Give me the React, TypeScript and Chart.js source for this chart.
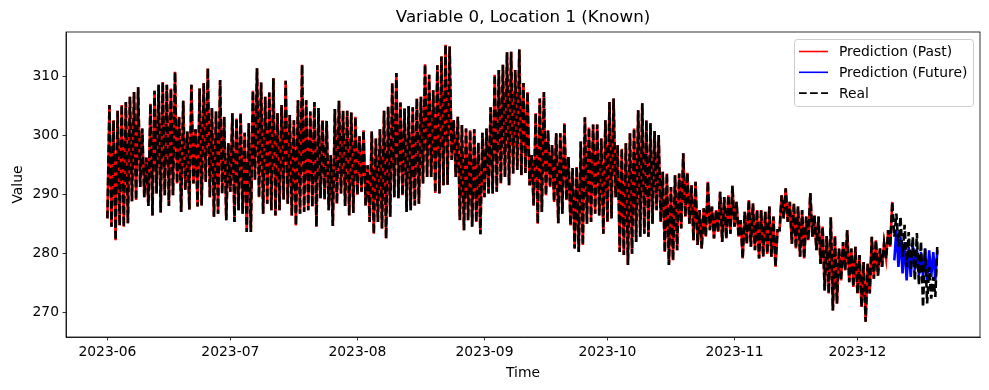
import React, { useEffect, useRef } from "react";
import { Chart, registerables } from "chart.js";

Chart.register(...registerables);

// ---- data ----
// x values are days since 2023-06-01
const monthTickDays = [0, 30, 61, 92, 122, 153, 183];
const monthTickLabels = ["2023-06", "2023-07", "2023-08", "2023-09", "2023-10", "2023-11", "2023-12"];
const yTickValues = [270, 280, 290, 300, 310];

// daily low / high of the real series, day 0 .. 202
const realLow = [
  285.9, 284.5, 282.2, 284.7, 284.5, 285.1, 288.8, 289.0, 291.2, 289.5,
  288.0, 286.4, 290.1, 286.9, 289.8, 288.0, 289.8, 291.8, 287.0, 290.7,
  287.4, 291.8, 287.9, 288.1, 292.1, 289.5, 286.2, 286.7, 290.1, 285.6,
  290.4, 285.3, 287.3, 286.7, 283.6, 283.6, 292.4, 289.5, 286.7, 288.4,
  287.3, 286.4, 287.3, 289.1, 288.4, 286.4, 284.7, 286.7, 287.0, 287.3,
  287.9, 284.5, 289.3, 289.1, 287.3, 284.6, 288.4, 290.1, 288.0, 286.4,
  286.8, 289.9, 290.4, 288.1, 285.3, 283.3, 285.3, 284.2, 282.5, 286.2,
  289.5, 289.3, 289.8, 287.0, 287.3, 288.1, 288.4, 291.8, 292.9, 292.9,
  290.2, 290.1, 291.5, 291.6, 295.8, 292.9, 285.6, 283.9, 285.6, 284.5,
  285.3, 283.2, 289.5, 290.1, 290.1, 290.4, 291.8, 292.9, 291.5, 293.5,
  294.1, 293.2, 293.6, 291.5, 288.1, 285.0, 287.0, 289.8, 291.2, 288.7,
  285.1, 286.7, 289.0, 284.7, 280.8, 280.2, 281.4, 285.0, 285.3, 286.7,
  286.4, 283.3, 285.3, 285.9, 289.5, 280.2, 279.7, 278.0, 279.9, 281.9,
  282.8, 283.3, 282.8, 285.0, 287.3, 285.3, 280.2, 278.0, 278.8, 280.5,
  284.2, 286.2, 285.0, 282.2, 281.4, 280.8, 282.8, 283.9, 282.5, 283.6,
  281.9, 282.5, 283.3, 284.5, 282.8, 279.1, 281.6, 281.1, 280.5, 279.1,
  279.4, 279.9, 279.4, 277.7, 283.9, 285.9, 285.3, 281.6, 280.8, 279.4,
  279.1, 282.2, 282.8, 280.5, 278.2, 273.7, 273.2, 270.3, 271.5, 275.4,
  277.1, 275.1, 274.3, 273.2, 270.9, 268.4, 273.2, 275.7, 276.2, 277.7,
  279.1, 281.1, 282.8, 281.1, 279.4, 277.7, 277.1, 275.4, 274.6, 270.9,
  271.5, 272.3, 272.6,
];
const realHigh = [
  305.1, 302.5, 304.1, 305.1, 305.6, 306.5, 307.3, 308.1, 301.1, 296.2,
  305.3, 307.5, 308.5, 309.0, 308.5, 307.9, 310.7, 303.1, 305.8, 300.6,
  308.5, 301.0, 307.9, 308.8, 311.3, 304.6, 304.0, 309.3, 303.1, 298.6,
  303.7, 302.8, 303.7, 300.4, 302.0, 307.5, 311.3, 308.9, 306.5, 307.2,
  309.6, 303.7, 305.1, 309.2, 303.4, 302.5, 305.9, 311.9, 305.9, 304.0,
  305.6, 304.6, 302.5, 302.4, 296.6, 304.4, 305.8, 304.1, 304.1, 303.8,
  303.1, 299.8, 300.8, 294.9, 300.6, 299.4, 301.0, 304.1, 304.8, 308.8,
  310.5, 305.5, 304.5, 304.9, 304.7, 306.2, 306.5, 312.0, 310.2, 307.6,
  311.8, 313.3, 315.3, 315.0, 302.5, 303.1, 301.7, 301.1, 300.8, 301.0,
  298.7, 300.4, 301.1, 304.7, 310.2, 311.0, 311.9, 314.0, 314.1, 311.0,
  314.5, 308.8, 307.3, 296.6, 303.7, 306.2, 307.3, 300.8, 298.3, 300.3,
  300.3, 302.0, 296.3, 294.4, 294.6, 298.9, 303.0, 301.3, 301.8, 301.8,
  299.4, 302.5, 305.6, 306.2, 298.3, 297.7, 298.6, 300.3, 301.1, 304.2,
  305.4, 302.5, 302.0, 300.7, 300.0, 293.8, 293.5, 291.2, 293.2, 293.5,
  296.9, 293.6, 291.5, 292.1, 287.3, 287.6, 292.1, 287.9, 287.3, 290.4,
  289.5, 289.8, 291.4, 288.7, 285.6, 287.0, 289.0, 288.4, 287.3, 287.3,
  287.0, 287.9, 286.2, 283.9, 289.8, 291.0, 288.7, 288.4, 287.9, 287.3,
  286.2, 290.2, 286.4, 286.2, 284.5, 282.9, 286.1, 282.9, 280.8, 281.9,
  283.9, 280.8, 281.1, 279.7, 278.5, 278.2, 282.8, 282.2, 280.8, 281.7,
  283.9, 288.7, 286.7, 286.2, 284.8, 283.6, 282.8, 283.4, 282.0, 280.8,
  277.7, 276.0, 281.6,
];

// the past prediction follows the real series up to this day (inclusive)
const pastLastDay = 191;

// future prediction, days 192 .. 202
const futureFirstDay = 192;
const futureLow = [278.8, 277.7, 276.6, 275.4, 276.0, 277.1, 276.3, 276.0, 275.4, 276.0, 275.4];
const futureHigh = [284.0, 282.8, 281.9, 281.1, 281.4, 280.8, 280.2, 280.8, 280.5, 280.2, 280.5];

const legendLabels = ["Prediction (Past)", "Prediction (Future)", "Real"];

function dayPoints(lows: number[], highs: number[], firstDay: number) {
  const pts: { x: number; y: number }[] = [];
  lows.forEach((lo, i) => {
    pts.push({ x: firstDay + i, y: lo });
    pts.push({ x: firstDay + i + 0.5, y: highs[i] });
  });
  return pts;
}

const FONT = "'DejaVu Sans', sans-serif";
const DASH = [7.7, 3.33];
const PLOT_WIDTH = 2.6;

const decorPlugin = {
  id: "decor",
  afterDatasetsDraw(chart: any) {
    const { ctx, chartArea } = chart;
    const { left, right, top, bottom } = chartArea;
    ctx.save();
    // frame
    ctx.strokeStyle = "#000";
    ctx.lineWidth = 0.8;
    ctx.setLineDash([]);
    ctx.strokeRect(left, top, right - left, bottom - top);

    // title
    ctx.fillStyle = "#000";
    ctx.font = `16.67px ${FONT}`;
    ctx.textAlign = "center";
    ctx.textBaseline = "alphabetic";
    const cx = (left + right) / 2;
    ctx.fillText("Variable 0, Location 1 (Known)", cx, 22);

    // axis labels
    ctx.font = `13.89px ${FONT}`;
    ctx.fillText("Time", cx, 377);
    ctx.save();
    ctx.translate(22, (top + bottom) / 2);
    ctx.rotate(-Math.PI / 2);
    ctx.fillText("Value", 0, 0);
    ctx.restore();

    // legend
    const bx = 794, by = 39, bw = 179, bh = 67;
    ctx.beginPath();
    (ctx as any).roundRect(bx + 0.5, by + 0.5, bw, bh, 3);
    ctx.fillStyle = "rgba(255,255,255,0.8)";
    ctx.fill();
    ctx.strokeStyle = "#cccccc";
    ctx.lineWidth = 1;
    ctx.stroke();

    const ds = chart.data.datasets;
    legendLabels.forEach((lab, i) => {
      const d = ds.find((x: any) => x.label === lab);
      const y = 51.5 + i * 20.8;
      ctx.beginPath();
      ctx.strokeStyle = d.borderColor;
      ctx.lineWidth = 1.6;
      ctx.setLineDash(d.borderDash || []);
      ctx.moveTo(799, y);
      ctx.lineTo(828, y);
      ctx.stroke();
      ctx.setLineDash([]);
      ctx.fillStyle = "#000";
      ctx.font = `13.89px ${FONT}`;
      ctx.textAlign = "left";
      ctx.textBaseline = "middle";
      ctx.fillText(lab, 839, y + 1);
    });
    ctx.restore();
  },
};

export default function App() {
  const ref = useRef<HTMLCanvasElement | null>(null);

  useEffect(() => {
    if (!ref.current) return;
    const real = dayPoints(realLow, realHigh, 0);
    const past = dayPoints(realLow.slice(0, pastLastDay + 1), realHigh.slice(0, pastLastDay + 1), 0);
    const future = dayPoints(futureLow, futureHigh, futureFirstDay);

    const tickFont = { family: FONT, size: 13.89 };
    const chart = new Chart(ref.current, {
      type: "line",
      data: {
        datasets: [
          {
            label: "Real",
            data: real,
            borderColor: "#000000",
            borderWidth: PLOT_WIDTH,
            borderDash: DASH,
            pointRadius: 0,
            fill: false,
            tension: 0,
          },
          {
            label: "Prediction (Past)",
            data: past,
            borderColor: "#ff0000",
            borderWidth: PLOT_WIDTH,
            pointRadius: 0,
            fill: false,
            tension: 0,
          },
          {
            label: "Prediction (Future)",
            data: future,
            borderColor: "#0000ff",
            borderWidth: PLOT_WIDTH,
            pointRadius: 0,
            fill: false,
            tension: 0,
          },
        ],
      } as any,
      options: {
        responsive: false,
        animation: false,
        events: [],
        layout: { padding: { left: 0, right: 9, top: 32, bottom: 0 } },
        plugins: {
          legend: { display: false },
          title: { display: false },
          tooltip: { enabled: false },
        },
        scales: {
          x: {
            type: "linear",
            min: -10.1,
            max: 212.9,
            afterFit: (s: any) => {
              s.height = 53;
            },
            afterBuildTicks: (s: any) => {
              s.ticks = monthTickDays.map((v) => ({ value: v }));
            },
            ticks: {
              callback: (v: any) => {
                const i = monthTickDays.indexOf(Number(v));
                return i >= 0 ? monthTickLabels[i] : "";
              },
              font: tickFont,
              color: "#000",
              padding: 3.5,
              maxRotation: 0,
              autoSkip: false,
            },
            grid: {
              drawOnChartArea: false,
              drawTicks: true,
              tickLength: 3.5,
              color: "#000",
              lineWidth: 0.8,
            },
            border: { display: true, color: "#000", width: 0.8 },
          },
          y: {
            type: "linear",
            min: 265.82,
            max: 317.45,
            afterFit: (s: any) => {
              s.width = 66;
            },
            afterBuildTicks: (s: any) => {
              s.ticks = yTickValues.map((v) => ({ value: v }));
            },
            ticks: {
              callback: (v: any) => String(v),
              font: tickFont,
              color: "#000",
              padding: 3.5,
              autoSkip: false,
            },
            grid: {
              drawOnChartArea: false,
              drawTicks: true,
              tickLength: 3.5,
              color: "#000",
              lineWidth: 0.8,
            },
            border: { display: true, color: "#000", width: 0.8 },
          },
        },
      } as any,
      plugins: [decorPlugin],
    });
    return () => chart.destroy();
  }, []);

  return (
    <div style={{ position: "fixed", left: 0, top: 0, width: 989, height: 390, background: "#fff" }}>
      <canvas ref={ref} width={989} height={390} style={{ display: "block" }} />
    </div>
  );
}
